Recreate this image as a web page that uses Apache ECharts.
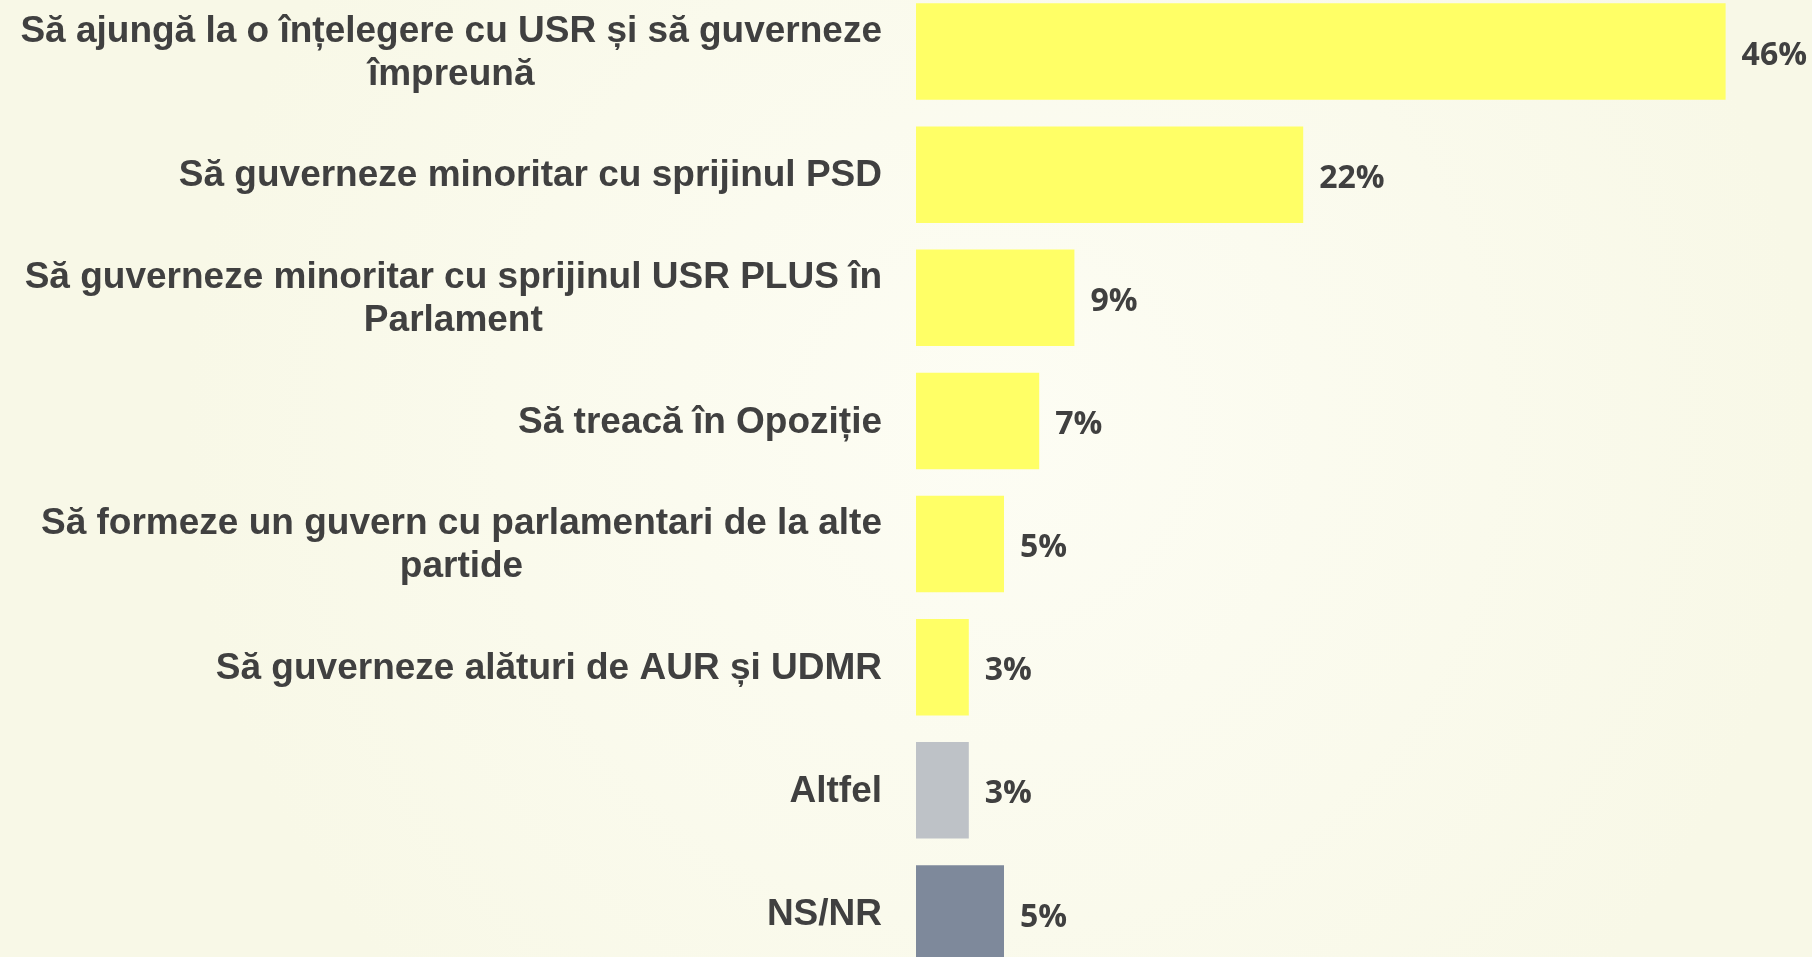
<!DOCTYPE html>
<html>
<head>
<meta charset="utf-8">
<script src="https://cdn.jsdelivr.net/npm/echarts@6/dist/echarts.min.js"></script>
<style>
html, body { margin: 0; padding: 0; }
#chart { width: 1812px; height: 957px; }
</style>
</head>
<body>
<div id="chart"></div>
<script>
// date din sondaj
const categories = [
    'Să ajungă la o înțelegere cu USR și să guverneze\nîmpreună',
    'Să guverneze minoritar cu sprijinul PSD',
    'Să guverneze minoritar cu sprijinul USR PLUS în\nParlament',
    'Să treacă în Opoziție',
    'Să formeze un guvern cu parlamentari de la alte\npartide',
    'Să guverneze alături de AUR și UDMR',
    'Altfel',
    'NS/NR'
];
const values = [46, 22, 9, 7, 5, 3, 3, 5];
const barColors = ['#FFFF66', '#FFFF66', '#FFFF66', '#FFFF66', '#FFFF66', '#FFFF66', '#BEC2C7', '#7E899B'];

let myChart = echarts.init(document.getElementById('chart'));
let option = {
    backgroundColor: new echarts.graphic.RadialGradient(0.55, 0.45, 0.85, [
        { offset: 0, color: '#FDFDF4' },
        { offset: 1, color: '#F8F8E7' }
    ]),
    grid: {
        left: 916,
        right: 16,
        top: -10,
        bottom: -18,
        outerBoundsMode: 'none',
        containLabel: false
    },
    xAxis: {
        type: 'value',
        min: 0,
        max: 50,
        show: false
    },
    yAxis: {
        type: 'category',
        inverse: true,
        data: categories,
        axisLine: { show: false },
        axisTick: { show: false },
        splitLine: { show: false },
        axisLabel: {
            margin: 34,
            align: 'right',
            formatter: function (v) {
                return v.split('\n').map(function (s) { return '{c|' + s + '}'; }).join('\n');
            },
            rich: {
                c: {
                    align: 'center',
                    fontFamily: '"Liberation Sans", Arial, sans-serif',
                    fontWeight: 'bold',
                    fontSize: 37,
                    lineHeight: 43,
                    padding: [3, 0, 0, 0],
                    color: '#404040'
                }
            }
        }
    },
    series: [
        {
            type: 'bar',
            barCategoryGap: '21.6%',
            data: values.map(function (v, i) {
                return { value: v, itemStyle: { color: barColors[i] } };
            }),
            label: {
                show: true,
                position: 'right',
                distance: 16,
                offset: [0, 4],
                formatter: '{c}%',
                fontFamily: '"Open Sans", sans-serif',
                fontWeight: 'bold',
                fontSize: 32,
                color: '#404040'
            }
        }
    ]
};
myChart.setOption(option);
</script>
</body>
</html>
